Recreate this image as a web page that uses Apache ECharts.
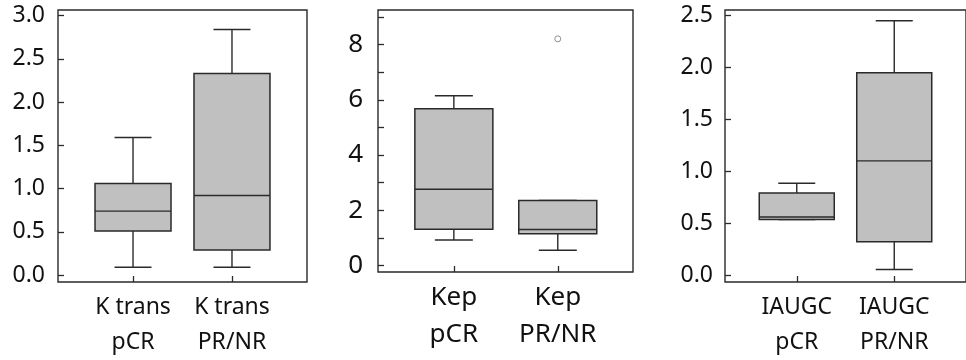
<!DOCTYPE html>
<html>
<head>
<meta charset="utf-8">
<script src="https://cdn.jsdelivr.net/npm/echarts@6/dist/echarts.min.js"></script>
<style>
  html, body { margin: 0; padding: 0; background: #fff; }
  #chart { width: 966px; height: 360px; }
</style>
</head>
<body>
<div id="chart"></div>
<script>
// box stats: [min, Q1, median, Q3, max]
const ktransCats = ["K trans\npCR", "K trans\nPR/NR"];
const ktransBoxes = [
  [0.09, 0.51, 0.74, 1.06, 1.59],
  [0.09, 0.29, 0.92, 2.33, 2.84],
];
const ktransTicks = [0, 0.5, 1, 1.5, 2, 2.5, 3];

const kepCats = ["Kep\npCR", "Kep\nPR/NR"];
const kepBoxes = [
  [0.92, 1.31, 2.76, 5.68, 6.15],
  [0.55, 1.15, 1.3, 2.35, 2.35],
];
const kepOutliers = [[1, 8.21]];
const kepTicks = [0, 1, 2, 3, 4, 5, 6, 7, 8, 9];
const kepLabels = [0, 2, 4, 6, 8];

const iaugcCats = ["IAUGC\npCR", "IAUGC\nPR/NR"];
const iaugcBoxes = [
  [0.535, 0.535, 0.56, 0.79, 0.885],
  [0.054, 0.32, 1.1, 1.95, 2.45],
];
const iaugcTicks = [0, 0.5, 1, 1.5, 2, 2.5];

const INK = "#2a2a2a";
const TEXT = "#111";
const FONT = "Noto Sans";

function renderBox(boxW, capW) {
  return function (params, api) {
    const x = api.value(0);
    const p = [1, 2, 3, 4, 5].map((i) => api.coord([x, api.value(i)]));
    const cx = p[0][0];
    const line = (x1, y1, x2, y2) => ({
      type: "line",
      shape: { x1, y1, x2, y2 },
      style: { stroke: INK, lineWidth: 1.4 },
    });
    return {
      type: "group",
      children: [
        line(cx, p[4][1], cx, p[3][1]),
        line(cx, p[1][1], cx, p[0][1]),
        line(cx - capW / 2, p[4][1], cx + capW / 2, p[4][1]),
        line(cx - capW / 2, p[0][1], cx + capW / 2, p[0][1]),
        {
          type: "rect",
          shape: { x: cx - boxW / 2, y: p[3][1], width: boxW, height: p[1][1] - p[3][1] },
          style: { fill: "#c0c0c0", stroke: INK, lineWidth: 1.5 },
        },
        line(cx - boxW / 2, p[2][1], cx + boxW / 2, p[2][1]),
      ],
    };
  };
}

function xAxisFor(idx, cats, min, max, fontSize, lineHeight, margin) {
  return {
    gridIndex: idx,
    type: "value",
    min,
    max,
    axisLine: { show: false, onZero: false },
    splitLine: { show: false },
    axisTick: { inside: true, length: 6, customValues: [0, 1], lineStyle: { color: INK, width: 1.3 } },
    axisLabel: {
      customValues: [0, 1],
      margin,
      color: TEXT,
      fontFamily: FONT,
      fontSize,
      lineHeight,
      formatter: (v) => cats[Math.round(v)],
    },
  };
}

function yAxisFor(idx, min, max, ticks, labels, fontSize, margin, digits) {
  return {
    gridIndex: idx,
    type: "value",
    min,
    max,
    axisLine: { show: false, onZero: false },
    splitLine: { show: false },
    axisTick: { inside: true, length: 6, customValues: ticks, lineStyle: { color: INK, width: 1.3 } },
    axisLabel: {
      customValues: labels,
      margin,
      color: TEXT,
      fontFamily: FONT,
      fontSize,
      formatter: (v) => v.toFixed(digits),
    },
  };
}

const gridStyle = { show: true, borderColor: INK, borderWidth: 1.4, backgroundColor: "transparent" };

const chart = echarts.init(document.getElementById("chart"), null, { renderer: "canvas" });
chart.setOption({
  animation: false,
  backgroundColor: "#fff",
  grid: [
    { left: 58, top: 10, width: 249, height: 273, ...gridStyle },
    { left: 378, top: 10, width: 255, height: 262, ...gridStyle },
    { left: 725, top: 10, width: 247, height: 273, ...gridStyle },
  ],
  xAxis: [
    xAxisFor(0, ktransCats, -0.758, 1.758, 23, 35, 8),
    xAxisFor(1, kepCats, -0.73, 1.724, 26, 37, 7),
    xAxisFor(2, iaugcCats, -0.736, 1.736, 23, 35, 8),
  ],
  yAxis: [
    yAxisFor(0, -0.08, 3.065, ktransTicks, ktransTicks, 23, 13, 1),
    yAxisFor(1, -0.24, 9.255, kepTicks, kepLabels, 26, 15, 0),
    yAxisFor(2, -0.067, 2.554, iaugcTicks, iaugcTicks, 23, 12, 1),
  ],
  series: [
    {
      type: "custom",
      xAxisIndex: 0,
      yAxisIndex: 0,
      renderItem: renderBox(76, 37),
      encode: { x: 0, y: [1, 2, 3, 4, 5] },
      data: ktransBoxes.map((b, i) => [i, ...b]),
    },
    {
      type: "custom",
      xAxisIndex: 1,
      yAxisIndex: 1,
      renderItem: renderBox(78, 38),
      encode: { x: 0, y: [1, 2, 3, 4, 5] },
      data: kepBoxes.map((b, i) => [i, ...b]),
    },
    {
      type: "scatter",
      xAxisIndex: 1,
      yAxisIndex: 1,
      symbol: "circle",
      symbolSize: 6,
      itemStyle: { color: "#fff", borderColor: "#777", borderWidth: 1 },
      data: kepOutliers,
    },
    {
      type: "custom",
      xAxisIndex: 2,
      yAxisIndex: 2,
      renderItem: renderBox(75, 37),
      encode: { x: 0, y: [1, 2, 3, 4, 5] },
      data: iaugcBoxes.map((b, i) => [i, ...b]),
    },
  ],
});
</script>
</body>
</html>
